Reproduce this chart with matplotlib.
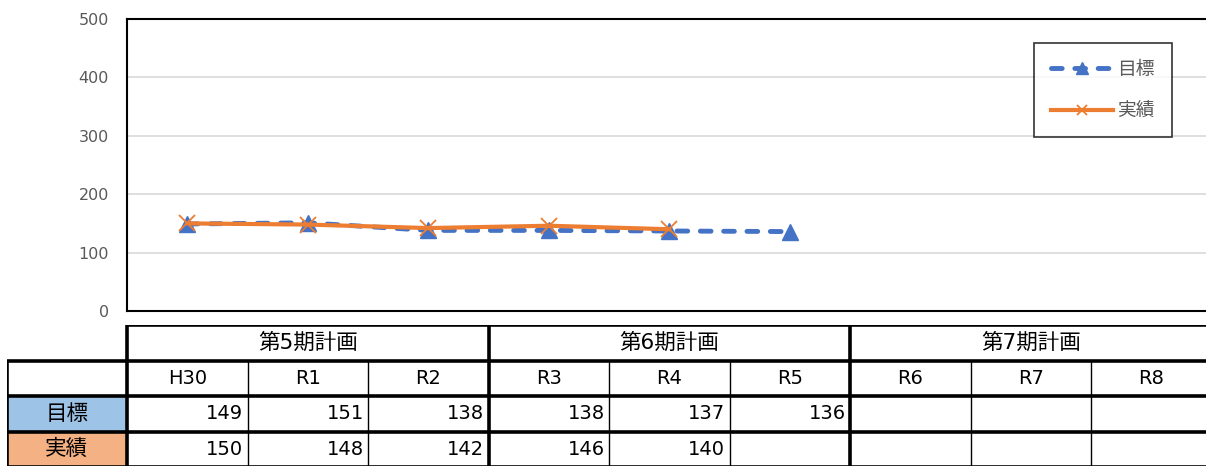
import numpy as np
import matplotlib
matplotlib.use('Agg')
import matplotlib.pyplot as plt

plt.rcParams['font.family'] = ['DejaVu Sans', 'Noto Sans CJK JP']

# data
years = ['H30', 'R1', 'R2', 'R3', 'R4', 'R5', 'R6', 'R7', 'R8']
target = [149, 151, 138, 138, 137, 136, None, None, None]
actual = [150, 148, 142, 146, 140, None, None, None, None]
periods = ['第5期計画', '第6期計画', '第7期計画']
period_len = [3, 3, 3]
series_names = ['目標', '実績']

BLUE = '#4472C4'
ORANGE = '#ED7D31'
W, H = 1206, 466

fig = plt.figure(figsize=(W / 100, H / 100), dpi=100)

# main chart axes, column width ~120.5 px
col_w = 120.5
x0 = 127
ax = fig.add_axes([x0 / W, 1 - 311 / H, 9 * col_w / W, (311 - 19) / H])
xs = np.arange(len(years))
t = np.array([np.nan if v is None else v for v in target], dtype=float)
a = np.array([np.nan if v is None else v for v in actual], dtype=float)

ax.plot(xs, t, color=BLUE, lw=3.5, ls=(0, (2.2, 2.6)), dash_capstyle='round',
        marker='^', ms=12, mec=BLUE, mfc=BLUE, label=series_names[0], zorder=3)
ax.plot(xs, a, color=ORANGE, lw=3, marker='x', ms=11, mew=1.3,
        label=series_names[1], zorder=4)

ax.set_xlim(-0.5, len(years) - 0.5)
ax.set_ylim(0, 500)
ax.set_yticks(range(0, 501, 100))
ax.set_xticks([])
ax.grid(axis='y', color='#D9D9D9', lw=1.2)
ax.set_axisbelow(True)
for s in ax.spines.values():
    s.set_color('black')
    s.set_linewidth(1.5)
ax.tick_params(axis='y', length=0, pad=13, labelsize=11.5, labelcolor='#595959')

leg = ax.legend(loc='upper left', bbox_to_anchor=((1034 - x0) / (9 * col_w), 1 - (43 - 19) / 292),
                frameon=True, fancybox=False, fontsize=13.5, labelcolor='#595959',
                handlelength=3.3, borderpad=0.9, labelspacing=1.2, handletextpad=0.25,
                markerscale=0.7, borderaxespad=0)
leg.get_frame().set_edgecolor('black')
leg.get_frame().set_linewidth(1.2)

# table axes: x in column units, y in row units (0 = top of group row)
tx0 = x0 - col_w
tab = fig.add_axes([tx0 / W, (H - 325 - 142) / H, 10 * col_w / W, 142 / H])
tab.set_xlim(-1.5, len(years) - 0.5)
tab.set_ylim(4, 0)
tab.axis('off')

n = len(years)
# label backgrounds
tab.fill_between([-1.5, -0.5], 2, 3, color='#9DC3E6', lw=0)
tab.fill_between([-1.5, -0.5], 3, 4, color='#F4B183', lw=0)

thick, thin = 2.6, 1.0
# horizontal lines
tab.hlines(0, -0.5, n - 0.5, color='black', lw=thick)
for r in [1, 2, 3, 4]:
    tab.hlines(r, -1.5, n - 0.5, color='black', lw=thick)
# vertical lines
bounds = np.cumsum([0] + period_len) - 0.5
for b in bounds:
    tab.vlines(b, 0, 4, color='black', lw=thick)
tab.vlines(-1.5, 1, 4, color='black', lw=thick)
for i in range(1, n):
    if i - 0.5 not in bounds:
        tab.vlines(i - 0.5, 1, 4, color='black', lw=thin)

fs = 14
fs_jp = 15.5
for p, name in enumerate(periods):
    cx = (bounds[p] + bounds[p + 1]) / 2
    tab.text(cx, 0.5, name, ha='center', va='center', fontsize=fs_jp)
for i, y in enumerate(years):
    tab.text(i, 1.5, y, ha='center', va='center', fontsize=fs)
tab.text(-1, 2.5, series_names[0], ha='center', va='center', fontsize=fs_jp)
tab.text(-1, 3.5, series_names[1], ha='center', va='center', fontsize=fs_jp)
for row, vals in [(2.5, target), (3.5, actual)]:
    for i, v in enumerate(vals):
        if v is not None:
            tab.text(i + 0.465, row, str(v), ha='right', va='center', fontsize=fs)

fig.savefig('out.png', dpi=100)
